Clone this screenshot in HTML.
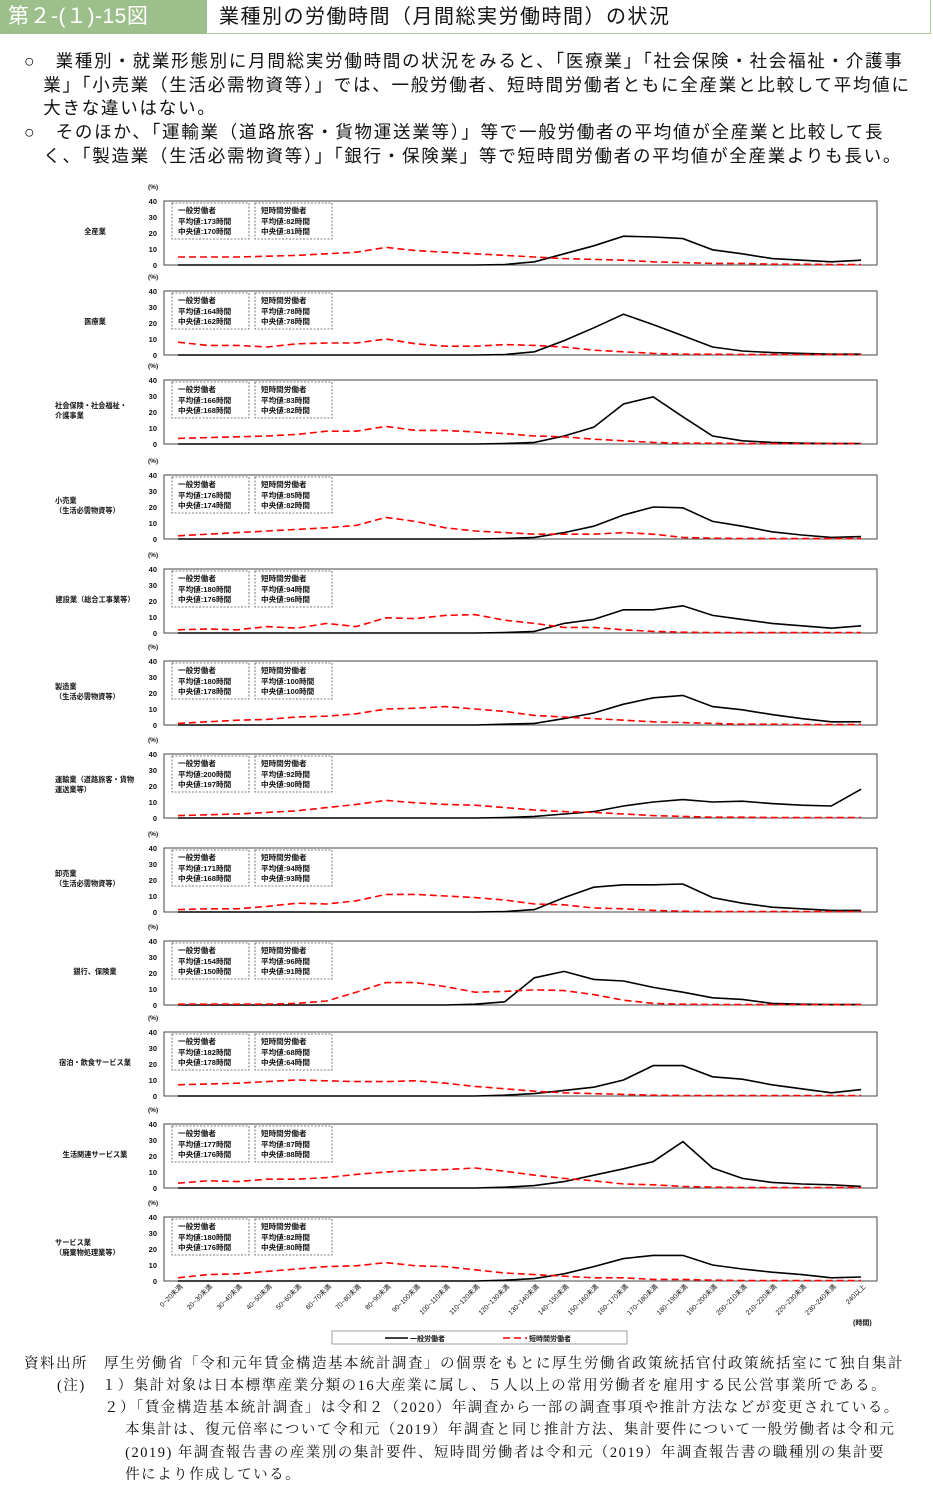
<!DOCTYPE html>
<html><head><meta charset="utf-8">
<style>
body{margin:0;width:933px;height:1483px;background:#fff;font-family:"Liberation Sans","Noto Sans CJK JP",sans-serif;position:relative;overflow:hidden}
.hdr{position:absolute;left:0;top:0;width:931px;height:34px;border:1px solid #a9c89a;border-left:none;border-top:none;box-sizing:border-box}
.num{position:absolute;left:0;top:0;width:207px;height:34px;background:#9dbf8c;color:#fff;font-size:21px;line-height:34px;padding-left:8px;box-sizing:border-box;letter-spacing:0.5px}
.ttl{position:absolute;left:219px;top:0;font-size:20px;line-height:34px;color:#111;letter-spacing:1.5px}
.p{position:absolute;font-size:17.5px;color:#111;line-height:23.5px;letter-spacing:1.75px;white-space:nowrap}
.n{position:absolute;font-family:"Liberation Serif","Noto Serif CJK SC",serif;font-size:14.5px;color:#111;line-height:22.3px;white-space:nowrap;letter-spacing:1.5px}
svg{position:absolute;left:0;top:0}
</style></head><body>
<div class="hdr">
<div class="num">第２-(１)-15図</div>
<div class="ttl">業種別の労働時間（月間総実労働時間）の状況</div>
</div>
<div class="p" style="left:24px;top:50px">○　業種別・就業形態別に月間総実労働時間の状況をみると、「医療業」「社会保険・社会福祉・介護事<br>　業」「小売業（生活必需物資等）」では、一般労働者、短時間労働者ともに全産業と比較して平均値に<br>　大きな違いはない。</div>
<div class="p" style="left:24px;top:121px">○　そのほか、「運輸業（道路旅客・貨物運送業等）」等で一般労働者の平均値が全産業と比較して長<br>　く、「製造業（生活必需物資等）」「銀行・保険業」等で短時間労働者の平均値が全産業よりも長い。</div>
<svg id="ch" width="933" height="1483"></svg>
<div class="n" style="left:24px;top:1353px">資料出所　厚生労働省「令和元年賃金構造基本統計調査」の個票をもとに厚生労働省政策統括官付政策統括室にて独自集計</div>
<div class="n" style="left:57px;top:1375px">(注)　１）集計対象は日本標準産業分類の16大産業に属し、５人以上の常用労働者を雇用する民公営事業所である。</div>
<div class="n" style="left:104px;top:1397px">２）「賃金構造基本統計調査」は令和２（2020）年調査から一部の調査事項や推計方法などが変更されている。<br>　 本集計は、復元倍率について令和元（2019）年調査と同じ推計方法、集計要件について一般労働者は令和元<br>　 (2019) 年調査報告書の産業別の集計要件、短時間労働者は令和元（2019）年調査報告書の職種別の集計要<br>　 件により作成している。</div>
<script>
const categories=["0~20未満","20~30未満","30~40未満","40~50未満","50~60未満","60~70未満","70~80未満","80~90未満","90~100未満","100~110未満","110~120未満","120~130未満","130~140未満","140~150未満","150~160未満","160~170未満","170~180未満","180~190未満","190~200未満","200~210未満","210~220未満","220~230未満","230~240未満","240以上"];
const industries=[["全産業"],["医療業"],["社会保険・社会福祉・","介護事業"],["小売業","（生活必需物資等）"],["建設業（総合工事業等）"],["製造業","（生活必需物資等）"],["運輸業（道路旅客・貨物","運送業等）"],["卸売業","（生活必需物資等）"],["銀行、保険業"],["宿泊・飲食サービス業"],["生活関連サービス業"],["サービス業","（廃棄物処理業等）"]];
const genStats=[[173,170],[164,162],[166,168],[176,174],[180,176],[180,178],[200,197],[171,168],[154,150],[182,178],[177,176],[180,176]];
const partStats=[[82,81],[78,78],[83,82],[85,82],[94,96],[100,100],[92,90],[94,93],[96,91],[68,64],[87,88],[82,80]];
const general=[
[0,0,0,0,0,0,0,0,0,0,0,0.3,2,7,12,18,17.5,16.5,9.5,7,4,3,2,3],
[0,0,0,0,0,0,0,0,0,0,0,0.3,2,9,17,25.5,19,12,5,2.5,1.5,1,0.5,0.5],
[0,0,0,0,0,0,0,0,0,0,0,0.3,1,5,10.5,25,29.5,17,5,2,1,0.5,0.3,0.3],
[0,0,0,0,0,0,0,0,0,0,0,0.3,1,4,8,15,20,19.5,11,8,4.5,2.5,1,1.5],
[0,0,0,0,0,0,0,0,0,0,0,0.3,1,6,8.5,14.5,14.5,17,11,8.5,6,4.5,3,4.5],
[0,0,0,0,0,0,0,0,0,0,0,0.5,1,4,7.5,13,17,18.5,11.5,9.5,6.5,4,2,2],
[0,0,0,0,0,0,0,0,0,0,0,0.3,1,2.5,4,7.5,10,11.5,10,10.5,9,8,7.5,18],
[0,0,0,0,0,0,0,0,0,0,0,0.3,1.5,9,15.5,17,17,17.5,9,5.5,3,2,1,1],
[0,0,0,0,0,0,0,0,0,0,0.5,2,17,21,16,15,11,8,4.5,3.5,1,0.5,0.3,0.3],
[0,0,0,0,0,0,0,0,0,0,0,0.5,1.5,3.5,5.5,10,19,19,12,10.5,7,4.5,2,4],
[0,0,0,0,0,0,0,0,0,0,0,0.5,1.5,4,8,12,16.5,29,12.5,6,3.5,2.5,2,1],
[0,0,0,0,0,0,0,0,0,0,0,0.5,1.5,4.5,9,14,16,16,10,7.5,5.5,4,2,2.5]];
const parttime=[
[5,5,5,5.5,6,7,8,11,9,8,7,6,5,4,3.5,3,2,1.5,1,1,0.5,0.5,0.3,0.3],
[8,6,6,5,7,7.5,7.5,10,7,5.5,5.5,6.5,6,5,3,2,1,0.5,0.5,0.3,0.3,0.3,0.3,0.3],
[3.5,4,4.5,5,6,8,8,11,8.5,8.5,7.5,6.5,5,4.5,3,2,1,0.5,0.5,0.3,0.3,0.3,0.3,0.3],
[2,3,4,5,6,7,8.5,13.5,11,7,5,4,3,3,3,4,3,1,0.5,0.3,0.3,0.3,0.3,0.3],
[2,2.5,2,4,3,6,4,9.5,9,11,11.5,8,6,3.5,3.5,2,1,0.5,0.3,0.3,0.3,0.3,0.3,0.3],
[1,2,3,3.5,5,5.5,7,10,10.5,11.5,10,8.5,6,5,4,3,2,1.5,1,0.5,0.5,0.3,0.3,0.3],
[1.5,2,2.5,3.5,4.5,6.5,8.5,11,9.5,8.5,8,6.5,5,4,3.5,2.5,1.5,1,0.5,0.5,0.3,0.3,0.3,0.3],
[1.5,2,2,3.5,5.5,5,7,11,11,10,9,7.5,5,4.5,2.5,2,1,0.5,0.3,0.3,0.3,0.3,0.3,0.3],
[0.5,0.5,0.5,0.5,1,2.5,8,14,14,11.5,8,8.5,9.5,9,6.5,3,1,0.5,0.3,0.3,0.3,0.3,0.3,0.3],
[7,7.5,8,9,10,9.5,9,9,9.5,8,6,4.5,3,2,1.5,1,0.5,0.3,0.3,0.3,0.3,0.3,0.3,0.3],
[3,4.5,4,5.5,5.5,6.5,8.5,10,11,11.5,12.5,10.5,8,6,4.5,2.5,2,1,0.5,0.3,0.3,0.3,0.3,0.3],
[2,4,4.5,6,7.5,9,9.5,11.5,9.5,9,7,5,4,3,2,2,1,1,0.5,0.3,0.3,0.3,0.3,0.3]];
const yTicks=[0,10,20,30,40];
const panelTops=[201,291,380,475,569,661,754,848,941,1032,1124,1217];
const svg=document.getElementById('ch');
const NS='http://www.w3.org/2000/svg';
function mk(tag,attrs,parent){const e=document.createElementNS(NS,tag);for(const k in attrs)e.setAttribute(k,attrs[k]);(parent||svg).appendChild(e);return e;}
function txt(x,y,s,size,anchor,parent,weight){const t=mk('text',{x:x,y:y,'font-size':size,'text-anchor':anchor||'start',fill:'#111','font-weight':weight||'normal'},parent);t.textContent=s;return t;}
const X0=178,XS=29.7,PH=64,L=164,R=877;
function xs(i){return X0+i*XS;}
panelTops.forEach((top,p)=>{
  const y0=top+PH;const ys=v=>y0-v/40*PH;
  const g=mk('g',{});
  
  
  const r=mk('rect',{x:L,y:top,width:R-L,height:PH,fill:'none',stroke:'#444','stroke-width':1},g);
  
  
  txt(148,top-12,'(%)',6.5,'start',g,'bold');
  yTicks.forEach(v=>{const t=txt(157,ys(v)+3,String(v),7.5,'end',g,'bold');});
  const lines=industries[p];
  const cy=top+33-(lines.length-1)*5;
  lines.forEach((s,k)=>{const t=txt(lines.length>1?55:95,cy+k*10,s,7.2,lines.length>1?'start':'middle',g,'bold');});
  const boxes=[[172,'一般労働者',genStats[p]],[255,'短時間労働者',partStats[p]]];
  boxes.forEach(([bx,h,st])=>{
    const b=mk('rect',{x:bx,y:top+2,width:77,height:36,fill:'#fff',stroke:'#555','stroke-dasharray':'2,1.5','stroke-width':0.8},g);
    
    
    txt(bx+6,top+12,h,7.6,'start',g,'bold');
    txt(bx+6,top+23,'平均値:'+st[0]+'時間',7.6,'start',g,'bold');
    txt(bx+6,top+33,'中央値:'+st[1]+'時間',7.6,'start',g,'bold');
  });
  const gp=general[p].map((v,i)=>xs(i)+','+ys(v)).join(' ');
  const pl=mk('polyline',{points:gp,fill:'none',stroke:'#000','stroke-width':1.6},g);
  
  
  const pp=parttime[p].map((v,i)=>xs(i)+','+ys(v)).join(' ');
  const pl2=mk('polyline',{points:pp,fill:'none',stroke:'#f00','stroke-width':1.6,'stroke-dasharray':'7,4'},g);
  
  
});
categories.forEach((c,i)=>{
  const x=xs(i)+5,y=1287;
  const t=mk('text',{x:x,y:y,'font-size':6.8,'text-anchor':'end',fill:'#111',transform:'rotate(-45 '+x+' '+y+')'});
  t.textContent=c;
  
  
});
txt(853,1325,'(時間)',7,'start',null,'bold');
const lg=mk('g',{});


mk('rect',{x:332,y:1331,width:295,height:13,fill:'#fff',stroke:'#888','stroke-width':0.8},lg);
mk('line',{x1:385,y1:1338,x2:408,y2:1338,stroke:'#000','stroke-width':1.6},lg);
txt(410,1341,'一般労働者',7,'start',lg,'bold');
mk('line',{x1:503,y1:1338,x2:527,y2:1338,stroke:'#f00','stroke-width':1.6,'stroke-dasharray':'7,4'},lg);
txt(529,1341,'短時間労働者',7,'start',lg,'bold');
</script>
</body></html>
